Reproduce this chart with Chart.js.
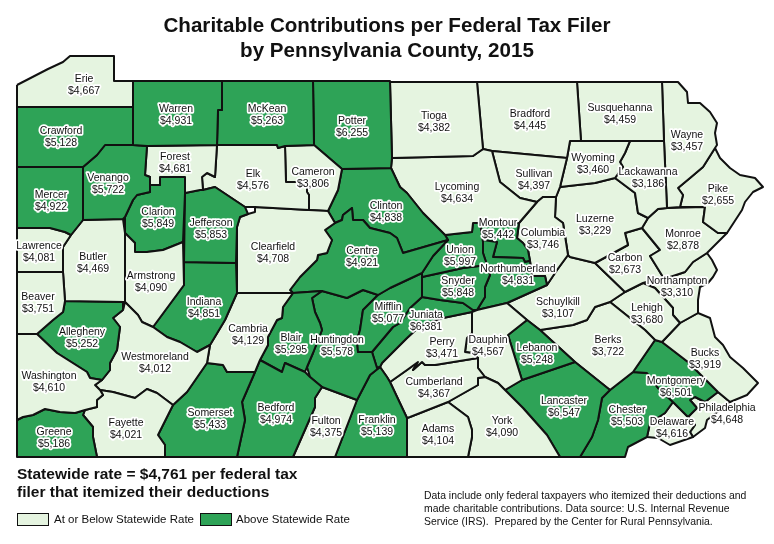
<!DOCTYPE html>
<html>
<head>
<meta charset="utf-8">
<title>Charitable Contributions per Federal Tax Filer</title>
<script src="https://cdn.jsdelivr.net/npm/chart.js@4/dist/chart.umd.min.js"></script>
<style>
  html, body { margin: 0; padding: 0; background: #fff; }
  #wrap { position: relative; width: 774px; height: 544px; overflow: hidden; font-family: "Liberation Sans", Arial, sans-serif; color: #111; }
  #map { position: absolute; left: 0; top: 0; }
  .title { position: absolute; left: 0; width: 774px; top: 12px; text-align: center; font-weight: bold; font-size: 20.6px; line-height: 25px; }
  .rate { position: absolute; left: 17px; top: 465px; font-weight: bold; font-size: 15.5px; line-height: 18px; }
  .note { position: absolute; left: 424px; top: 489px; font-size: 10.4px; line-height: 13px; white-space: pre; }
  .swatch { position: absolute; top: 513px; width: 30px; height: 11px; border: 1.5px solid #111; }
  .key { position: absolute; top: 512px; font-size: 11.5px; line-height: 14px; }
</style>
</head>
<body>
<div id="wrap">
  <canvas id="map" width="774" height="544"></canvas>
  <div class="title">Charitable Contributions per Federal Tax Filer<br>by Pennsylvania County, 2015</div>
  <div class="rate">Statewide rate = $4,761 per federal tax<br>filer that itemized their deductions</div>
  <div class="swatch" style="left:17px;background:#e5f4e0"></div>
  <div class="key" style="left:54px">At or Below Statewide Rate</div>
  <div class="swatch" style="left:200px;background:#2ea357"></div>
  <div class="key" style="left:236px">Above Statewide Rate</div>
  <div class="note">Data include only federal taxpayers who itemized their deductions and
made charitable contributions. Data source: U.S. Internal Revenue
Service (IRS).  Prepared by the Center for Rural Pennsylvania.</div>
</div>
<script>
const statewideRate = 4761;

const countyNames = [
  'Erie', 'Crawford', 'Mercer', 'Lawrence', 'Beaver', 'Washington', 'Greene', 'Warren', 'Venango', 'Butler',
  'Allegheny', 'Fayette', 'Westmoreland', 'Armstrong', 'Forest', 'Clarion', 'Jefferson', 'Indiana', 'McKean', 'Elk',
  'Clearfield', 'Cambria', 'Somerset', 'Bedford', 'Blair', 'Centre', 'Cameron', 'Potter', 'Clinton', 'Tioga',
  'Lycoming', 'Union', 'Snyder', 'Mifflin', 'Huntingdon', 'Juniata', 'Fulton', 'Franklin', 'Perry', 'Cumberland',
  'Adams', 'York', 'Dauphin', 'Lebanon', 'Lancaster', 'Northumberland', 'Montour', 'Columbia', 'Sullivan', 'Bradford',
  'Susquehanna', 'Wyoming', 'Lackawanna', 'Luzerne', 'Wayne', 'Pike', 'Monroe', 'Carbon', 'Schuylkill', 'Berks',
  'Lehigh', 'Northampton', 'Bucks', 'Montgomery', 'Chester', 'Delaware', 'Philadelphia'
];

const countyValues = [
  4667, 5128, 4922, 4081, 3751, 4610, 5186, 4931, 5722, 4469,
  5252, 4021, 4012, 4090, 4681, 5849, 5853, 4851, 5263, 4576,
  4708, 4129, 5433, 4974, 5295, 4921, 3806, 6255, 4838, 4382,
  4634, 5997, 5848, 5077, 5578, 6381, 4375, 5139, 3471, 4367,
  4104, 4090, 4567, 5248, 6547, 4831, 5442, 3746, 4397, 4445,
  4459, 3460, 3186, 3229, 3457, 2655, 2878, 2673, 3107, 3722,
  3680, 3310, 3919, 6501, 5503, 4616, 4648
];

// county outlines, same order as countyNames
const countyOutlines = [
  [[17,85],[48,69],[63,62],[70,56],[114,56],[114,81],[133,81],[133,107],[17,107]],
  [[17,107],[133,107],[133,145],[105,145],[97,155],[83,167],[17,167]],
  [[17,167],[83,167],[83,220],[71,235],[65,232],[50,228],[17,228]],
  [[17,228],[50,228],[65,232],[71,235],[63,247],[63,272],[17,272]],
  [[17,272],[63,272],[65,301],[63,312],[53,320],[37,334],[17,334]],
  [[17,334],[37,334],[57,353],[87,372],[90,378],[102,380],[95,385],[100,390],[103,395],[97,400],[97,407],[85,410],[75,413],[60,412],[45,409],[33,415],[23,417],[17,420]],
  [[17,420],[23,417],[33,415],[45,409],[60,412],[75,413],[85,410],[83,415],[93,427],[93,437],[97,457],[17,457]],
  [[133,81],[222,81],[222,110],[218,110],[217,145],[147,146],[133,145]],
  [[83,167],[97,155],[105,145],[133,145],[147,146],[145,175],[150,177],[150,192],[137,195],[133,200],[125,217],[123,219],[83,220]],
  [[83,220],[123,219],[125,233],[125,302],[124,302],[65,301],[63,272],[63,247],[71,235]],
  [[37,334],[53,320],[63,312],[65,301],[124,302],[123,310],[113,318],[120,327],[117,350],[110,363],[110,370],[102,380],[90,378],[87,372],[57,353]],
  [[100,390],[113,392],[135,398],[147,389],[157,393],[173,405],[158,435],[165,445],[165,457],[97,457],[93,437],[93,427],[83,415],[85,410],[97,407],[97,400],[103,395]],
  [[123,310],[125,302],[138,315],[142,322],[153,327],[167,337],[180,342],[197,352],[210,345],[207,363],[187,392],[173,405],[157,393],[147,389],[135,398],[113,392],[100,390],[95,385],[102,380],[110,370],[110,363],[117,350],[120,327],[113,318]],
  [[125,233],[135,243],[135,252],[147,252],[163,250],[183,242],[184,285],[153,327],[142,322],[138,315],[125,302]],
  [[147,146],[217,145],[215,177],[207,173],[202,177],[203,190],[200,190],[185,193],[185,177],[160,177],[160,185],[150,185],[150,177],[145,175]],
  [[150,185],[160,185],[160,177],[185,177],[185,193],[183,242],[163,250],[147,252],[135,252],[135,243],[125,233],[125,217],[133,200],[137,195],[150,192]],
  [[185,193],[200,190],[203,190],[215,187],[245,207],[248,214],[240,217],[237,227],[236,263],[184,262]],
  [[184,262],[236,263],[237,293],[225,320],[210,345],[197,352],[180,342],[167,337],[153,327],[184,285]],
  [[222,81],[313,81],[314,145],[285,146],[278,148],[277,145],[217,145],[218,110],[222,110]],
  [[217,145],[277,145],[278,148],[285,146],[286,182],[307,182],[307,192],[309,195],[309,210],[255,207],[245,207],[215,187],[203,190],[202,177],[207,173],[215,177]],
  [[255,207],[309,210],[328,211],[335,223],[325,230],[332,240],[327,253],[318,255],[317,260],[307,270],[300,277],[290,290],[293,293],[237,293],[237,227],[240,217],[248,214],[255,212]],
  [[237,293],[293,293],[283,307],[282,318],[277,320],[268,337],[268,345],[260,360],[255,372],[227,372],[223,365],[207,363],[210,345],[225,320]],
  [[207,363],[223,365],[227,372],[255,372],[242,402],[245,420],[237,457],[165,457],[165,445],[158,435],[173,405],[187,392]],
  [[255,372],[260,360],[282,372],[285,363],[305,372],[310,377],[322,387],[315,398],[315,407],[293,457],[237,457],[245,420],[242,402]],
  [[293,293],[322,291],[312,298],[315,312],[320,323],[322,330],[313,353],[307,367],[305,372],[285,363],[282,372],[260,360],[268,345],[268,337],[277,320],[282,318],[283,307]],
  [[335,223],[342,220],[343,215],[352,208],[353,220],[363,220],[370,228],[390,233],[397,238],[403,253],[448,240],[433,256],[422,273],[390,288],[378,295],[363,290],[347,298],[322,291],[293,293],[290,290],[300,277],[307,270],[317,260],[318,255],[327,253],[332,240],[325,230]],
  [[285,146],[314,145],[342,169],[338,190],[328,211],[309,210],[309,195],[307,192],[307,182],[286,182]],
  [[313,81],[390,81],[392,158],[391,168],[342,169],[314,145]],
  [[342,169],[391,168],[400,187],[407,193],[423,213],[445,235],[448,240],[403,253],[397,238],[390,233],[370,228],[363,220],[353,220],[352,208],[343,215],[342,220],[335,223],[328,211],[338,190]],
  [[390,82],[477,82],[483,149],[473,156],[392,158]],
  [[392,158],[473,156],[483,149],[492,151],[500,182],[520,198],[537,202],[519,223],[480,223],[473,223],[472,232],[445,235],[423,213],[407,193],[400,187],[391,168]],
  [[445,235],[472,232],[473,223],[480,223],[483,242],[483,253],[487,265],[463,268],[422,277],[422,273],[433,256],[448,240]],
  [[422,277],[463,268],[487,265],[490,275],[485,287],[485,297],[477,310],[473,310],[463,303],[440,300],[422,297]],
  [[378,295],[390,288],[422,273],[422,297],[410,308],[400,323],[393,327],[372,352],[358,352],[357,340],[360,330],[363,310]],
  [[322,291],[347,298],[363,290],[378,295],[363,310],[360,330],[357,340],[358,352],[372,352],[377,368],[380,367],[370,375],[357,400],[322,387],[310,377],[307,367],[313,353],[322,330],[320,323],[315,312],[312,298]],
  [[422,297],[440,300],[463,303],[473,310],[472,312],[443,318],[420,326],[407,338],[390,355],[382,363],[380,367],[377,368],[372,352],[393,327],[400,323],[410,308]],
  [[322,387],[357,400],[335,457],[293,457],[315,407],[315,398]],
  [[357,400],[370,375],[380,367],[387,377],[390,382],[407,418],[407,457],[335,457]],
  [[380,367],[382,363],[390,355],[407,338],[420,326],[443,318],[472,312],[472,333],[467,338],[465,352],[472,353],[478,358],[435,365],[425,365],[422,362],[413,370],[418,362],[407,370],[390,382],[387,377]],
  [[390,382],[407,370],[418,362],[413,370],[422,362],[425,365],[435,365],[478,358],[478,368],[485,377],[478,378],[478,385],[448,402],[410,417],[407,418]],
  [[407,418],[410,417],[448,402],[468,417],[472,430],[472,437],[468,457],[407,457]],
  [[448,402],[478,385],[478,378],[485,377],[498,383],[505,390],[523,408],[547,435],[560,457],[468,457],[472,437],[472,430],[468,417]],
  [[472,312],[477,310],[507,303],[527,320],[508,335],[522,380],[505,390],[498,383],[485,377],[478,368],[478,358],[472,353],[465,352],[467,338],[472,333]],
  [[527,320],[540,330],[575,362],[522,380],[508,335]],
  [[505,390],[522,380],[575,362],[610,390],[602,398],[598,420],[592,437],[580,457],[560,457],[547,435],[523,408]],
  [[483,240],[497,242],[493,257],[523,258],[525,262],[530,261],[532,276],[545,276],[547,285],[507,303],[477,310],[485,297],[485,287],[490,275],[487,265],[483,253]],
  [[480,223],[519,223],[517,238],[523,243],[528,250],[530,261],[525,262],[523,258],[493,257],[497,242],[483,240]],
  [[537,202],[543,197],[556,197],[555,217],[563,223],[568,255],[557,270],[547,285],[545,276],[532,276],[530,261],[528,250],[523,243],[517,238],[519,223]],
  [[492,151],[567,158],[560,187],[556,197],[543,197],[537,202],[520,198],[500,182]],
  [[477,82],[577,82],[581,141],[570,141],[567,158],[492,151],[483,149]],
  [[577,82],[662,82],[664,141],[581,141]],
  [[570,141],[630,141],[625,153],[620,162],[623,167],[615,178],[595,183],[560,187],[567,158]],
  [[630,141],[664,141],[667,208],[658,209],[648,218],[638,213],[635,193],[615,178],[623,167],[620,162],[625,153]],
  [[556,197],[560,187],[595,183],[615,178],[635,193],[638,213],[648,218],[642,228],[625,233],[628,245],[595,263],[570,257],[568,255],[563,223],[555,217]],
  [[662,82],[678,82],[687,92],[688,103],[700,103],[710,112],[717,123],[715,133],[717,145],[715,148],[703,167],[690,178],[678,188],[683,195],[680,207],[667,208],[664,141]],
  [[715,148],[720,158],[730,168],[740,175],[755,178],[763,187],[753,192],[745,202],[742,210],[727,233],[718,233],[703,222],[705,207],[680,207],[683,195],[678,188],[690,178],[703,167]],
  [[658,209],[667,208],[705,207],[703,222],[718,233],[727,233],[707,253],[693,262],[685,272],[670,277],[663,277],[650,256],[660,250],[642,228],[648,218]],
  [[595,263],[628,245],[625,233],[642,228],[660,250],[650,256],[663,277],[643,283],[625,292]],
  [[507,303],[547,285],[557,270],[568,255],[570,257],[595,263],[625,292],[610,302],[595,307],[587,320],[573,325],[540,330],[527,320]],
  [[540,330],[573,325],[587,320],[595,307],[610,302],[645,330],[655,340],[633,372],[610,390],[575,362]],
  [[610,302],[625,292],[643,283],[655,288],[673,308],[673,315],[680,323],[662,342],[655,340],[645,330]],
  [[663,277],[670,277],[685,272],[693,262],[707,253],[712,260],[717,270],[713,277],[708,283],[700,287],[698,300],[698,313],[680,323],[673,315],[673,308],[655,288],[643,283]],
  [[662,342],[680,323],[698,313],[710,318],[715,337],[723,345],[730,357],[743,368],[758,383],[747,395],[730,402],[718,392],[688,362]],
  [[655,340],[662,342],[688,362],[718,392],[705,402],[695,397],[690,400],[697,408],[688,417],[673,402],[658,388],[647,373],[633,372]],
  [[633,372],[647,373],[658,388],[673,402],[665,413],[650,423],[647,437],[628,447],[625,457],[580,457],[592,437],[598,420],[602,398],[610,390]],
  [[673,402],[688,417],[695,425],[690,432],[693,437],[670,445],[658,438],[647,437],[650,423],[665,413]],
  [[718,392],[730,402],[707,420],[705,428],[693,437],[690,432],[695,425],[688,417],[697,408],[690,400],[695,397],[705,402]]
];

// where each county's name sits on the map, same order as countyNames
const labelX = [
  84, 61, 51, 39, 38, 49, 54, 176, 108, 93,
  82, 126, 155, 151, 175, 158, 211, 204, 267, 253,
  273, 248, 210, 276, 291, 362, 313, 352, 386, 434,
  457, 460, 458, 388, 337, 426, 326, 377, 442, 434,
  438, 502, 488, 537, 564, 518, 498, 543, 534, 530,
  620, 593, 648, 595, 687, 718, 683, 625, 558, 608,
  647, 677, 705, 676, 627, 672, 727
];
const labelY = [
  79, 131, 195, 246, 297, 376, 432, 109, 178, 257,
  332, 423, 357, 276, 157, 212, 223, 302, 109, 174,
  247, 329, 413, 408, 338, 251, 172, 121, 206, 116,
  187, 250, 281, 307, 340, 315, 421, 420, 342, 382,
  429, 421, 340, 348, 401, 269, 223, 233, 174, 114,
  108, 158, 172, 219, 135, 189, 234, 258, 302, 340,
  308, 281, 353, 381, 410, 422, 408
];

const GREEN = '#2ea357';
const LIGHT = '#e5f4e0';

function money(v) {
  return '$' + v.toLocaleString('en-US');
}

// names and amounts with the white halo, placed through the scales
const countyLabels = {
  id: 'countyLabels',
  afterDatasetsDraw(chart) {
    const { ctx, scales } = chart;
    ctx.save();
    ctx.font = '10.5px "Liberation Sans", Arial, sans-serif';
    ctx.textAlign = 'center';
    ctx.textBaseline = 'middle';
    ctx.lineJoin = 'round';
    ctx.lineWidth = 3.5;
    ctx.strokeStyle = '#fff';
    ctx.fillStyle = '#111';
    countyNames.forEach((name, i) => {
      const x = scales.x.getPixelForValue(labelX[i]);
      const y = scales.y.getPixelForValue(labelY[i]);
      const y2 = scales.y.getPixelForValue(labelY[i] + 12);
      const amount = money(countyValues[i]);
      ctx.strokeText(name, x, y);
      ctx.strokeText(amount, x, y2);
      ctx.fillText(name, x, y);
      ctx.fillText(amount, x, y2);
    });
    ctx.restore();
  }
};

new Chart(document.getElementById('map'), {
  type: 'scatter',
  data: {
    datasets: countyNames.map((name, i) => ({
      label: name,
      data: countyOutlines[i].concat([countyOutlines[i][0]]).map(p => ({ x: p[0], y: p[1] })),
      showLine: true,
      fill: 'shape',
      backgroundColor: countyValues[i] > statewideRate ? GREEN : LIGHT,
      borderColor: '#111',
      borderWidth: 2,
      borderJoinStyle: 'round',
      tension: 0,
      pointRadius: 0,
      pointHoverRadius: 0
    }))
  },
  options: {
    responsive: false,
    animation: false,
    layout: { padding: 0 },
    events: [],
    plugins: { legend: { display: false }, tooltip: { enabled: false }, title: { display: false } },
    scales: {
      x: { type: 'linear', min: 0, max: 774, display: false },
      y: { type: 'linear', min: 0, max: 544, reverse: true, display: false }
    }
  },
  plugins: [countyLabels]
});
</script>
</body>
</html>
